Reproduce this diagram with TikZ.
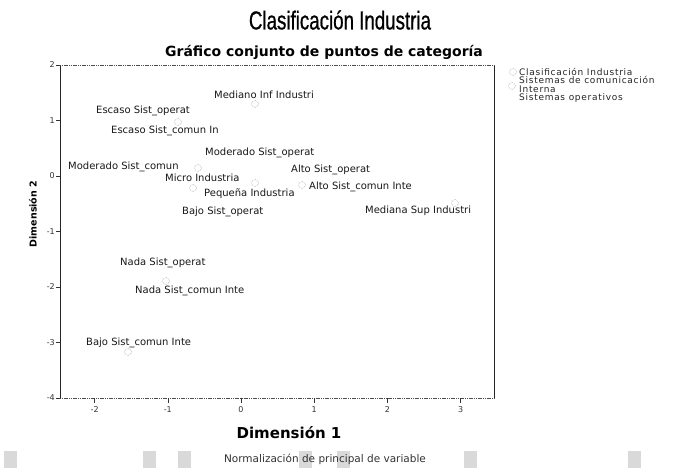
\documentclass[tikz,border=0pt]{standalone}
\usepackage{fontspec}
\setmainfont{DejaVu Sans}
\newfontfamily\titlefont[FakeStretch=0.72,FakeBold=0.6]{Liberation Sans}
\newfontfamily\labfont{DejaVu Sans}
\newfontfamily\legfont[LetterSpace=8]{DejaVu Sans}
\tikzset{
  lab/.style={font=\labfont\fontsize{10}{11}\selectfont, text=black!90, inner sep=0pt, anchor=west},
  legtext/.style={font=\legfont\fontsize{9}{10}\selectfont, text=black!85, inner sep=0pt, anchor=west},
  tick/.style={font=\labfont\fontsize{8}{9}\selectfont, text=black!80, inner sep=0pt},
  pt/.style={circle, draw=black!45, densely dotted, line width=0.5pt, minimum size=7pt, inner sep=0pt},
  frameline/.style={line width=0.9pt, draw=black!85},
  dotline/.style={line width=0.8pt, draw=black!70, dash pattern=on 1.2pt off 0.6pt},
  graybox/.style={fill=black!15, draw=none}
}
\begin{document}
\begin{tikzpicture}[x=1pt,y=-1pt]
\useasboundingbox (0,0) rectangle (679,468);
\fill[white] (0,0) rectangle (679,468);

% titles
\node[font=\titlefont\fontsize{26}{28}\selectfont, inner sep=0pt] (title) at (340,20) {Clasificación Industria};
\node[font=\bfseries\fontsize{14}{15}\selectfont, inner sep=0pt] (subtitle) at (324,52) {Gráfico conjunto de puntos de categoría};

% plot frame
\coordinate (tl) at (60,65);
\coordinate (tr) at (494,65);
\coordinate (bl) at (60,398);
\coordinate (br) at (494,398);
\draw[frameline] (tl) -- (bl);
\draw[frameline] (tr) -- (br);
\draw[dotline] (tl) -- (tr);
\draw[dotline] (bl) -- (br);

% y axis ticks: 0 at y=176, 55.5 per unit
\foreach \v/\t in {2/2,1/1,0/0,-1/-1,-2/-2,-3/-3,-4/-4}{
  \draw[black!80, line width=0.6pt] (56,176-55.5*\v) -- (60,176-55.5*\v);
  \node[tick, anchor=east] (y\t) at (55,176-55.5*\v) {\t};
}
% x axis ticks: 0 at x=241, 73.2 per unit
\foreach \v/\t in {-2/-2,-1/-1,0/0,1/1,2/2,3/3}{
  \draw[black!80, line width=0.6pt] (241+73.2*\v,398) -- (241+73.2*\v,403);
  \node[tick] (x\t) at (241+73.2*\v,410) {\t};
}

% axis titles
\node[font=\bfseries\fontsize{15}{16}\selectfont, inner sep=0pt] (xtitle) at (289,433) {Dimensión 1};
\node[font=\bfseries\fontsize{9.5}{10}\selectfont, inner sep=0pt, rotate=90] (ytitle) at (33,214) {Dimensión 2};

% category points
\node[pt] (p1) at (255,104) {};
\node[pt] (p2) at (178,122) {};
\node[pt] (p3) at (198,168) {};
\node[pt] (p4) at (193,188) {};
\node[pt] (p5) at (255,183) {};
\node[pt] (p6) at (302,185) {};
\node[pt] (p7) at (455,203) {};
\node[pt] (p8) at (166,281) {};
\node[pt] (p9) at (128,352) {};

% point labels
\node[lab] (l1) at (214,95) {Mediano Inf Industri};
\node[lab] (l2) at (96,111) {Escaso Sist\_operat};
\node[lab] (l3) at (111,131) {Escaso Sist\_comun In};
\node[lab] (l4) at (205,153) {Moderado Sist\_operat};
\node[lab] (l5) at (68,167) {Moderado Sist\_comun};
\node[lab] (l6) at (291,170) {Alto Sist\_operat};
\node[lab] (l7) at (165,178) {Micro Industria};
\node[lab] (l8) at (309,187) {Alto Sist\_comun Inte};
\node[lab] (l9) at (204,194) {Pequeña Industria};
\node[lab] (l10) at (365,211) {Mediana Sup Industri};
\node[lab] (l11) at (182,212) {Bajo Sist\_operat};
\node[lab] (l12) at (120,263) {Nada Sist\_operat};
\node[lab] (l13) at (135,291) {Nada Sist\_comun Inte};
\node[lab] (l14) at (86,343) {Bajo Sist\_comun Inte};

% legend
\node[pt] (m1) at (513,72) {};
\node[legtext] (g1) at (519,71.5) {Clasificación Industria};
\node[pt] (m2) at (512,86) {};
\node[legtext] (g2) at (519,80) {Sistemas de comunicación};
\node[legtext] (g3) at (519,89) {Interna};
\node[legtext] (g4) at (519,98.5) {Sistemas operativos};

% footer blocks and note
\foreach \x in {4,143,178,299,337,464,628}{
  \fill[graybox] (\x,451) rectangle (\x+13,468);
}
\node[font=\labfont\fontsize{10.5}{11}\selectfont, text=black!80, inner sep=0pt] (note) at (325,459) {Normalización de principal de variable};
\end{tikzpicture}
\end{document}
